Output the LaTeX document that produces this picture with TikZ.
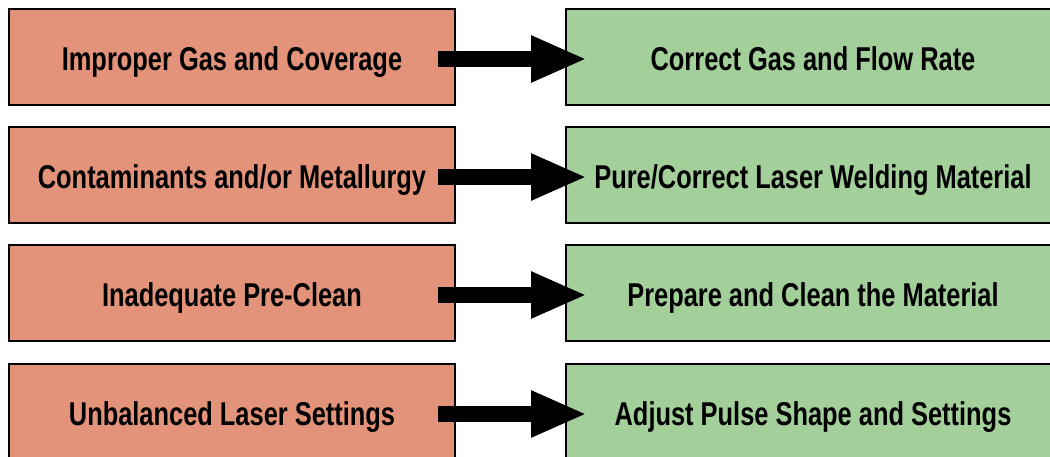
\documentclass[tikz,border=0pt]{standalone}
\usepackage{fontspec}
\setmainfont{Liberation Sans}[FakeStretch=0.77]
\usetikzlibrary{arrows.meta}
\definecolor{badfill}{HTML}{E3937A}
\definecolor{goodfill}{HTML}{A3CF9A}
\tikzset{
  box/.style={draw=black, line width=2pt, minimum width=446pt, minimum height=96pt,
    inner sep=0pt, text height=26.6pt, text depth=0pt,
    font=\fontsize{33}{38}\selectfont\bfseries, text=black},
  bad/.style={box, fill=badfill},
  good/.style={box, fill=goodfill, minimum width=494pt},
  fix/.style={line width=16pt, draw=black, -{Triangle[length=56pt, width=43pt]}}
}
\begin{document}
\begin{tikzpicture}[x=1pt,y=1pt]
\clip (0,0) rectangle (1050,-457);
\useasboundingbox (0,0) rectangle (1050,-457);
\fill[white] (0,0) rectangle (1050,-457);
\node[bad]  (p1) at (232,-57)  {Improper Gas and Coverage};
\node[good] (s1) at (813,-57)  {Correct Gas and Flow Rate};
\node[bad]  (p2) at (232,-175) {Contaminants and/or Metallurgy};
\node[good] (s2) at (813,-175) {Pure/Correct Laser Welding Material};
\node[bad]  (p3) at (232,-293) {Inadequate Pre-Clean};
\node[good] (s3) at (813,-293) {Prepare and Clean the Material};
\node[bad]  (p4) at (232,-412) {Unbalanced Laser Settings};
\node[good] (s4) at (813,-412) {Adjust Pulse Shape and Settings};
\foreach \i in {1,2,3,4}{
  \draw[fix] ([xshift=-18pt,yshift=-2pt]p\i.east) -- ([xshift=22pt,yshift=-2pt]s\i.west);
}
\end{tikzpicture}
\end{document}
